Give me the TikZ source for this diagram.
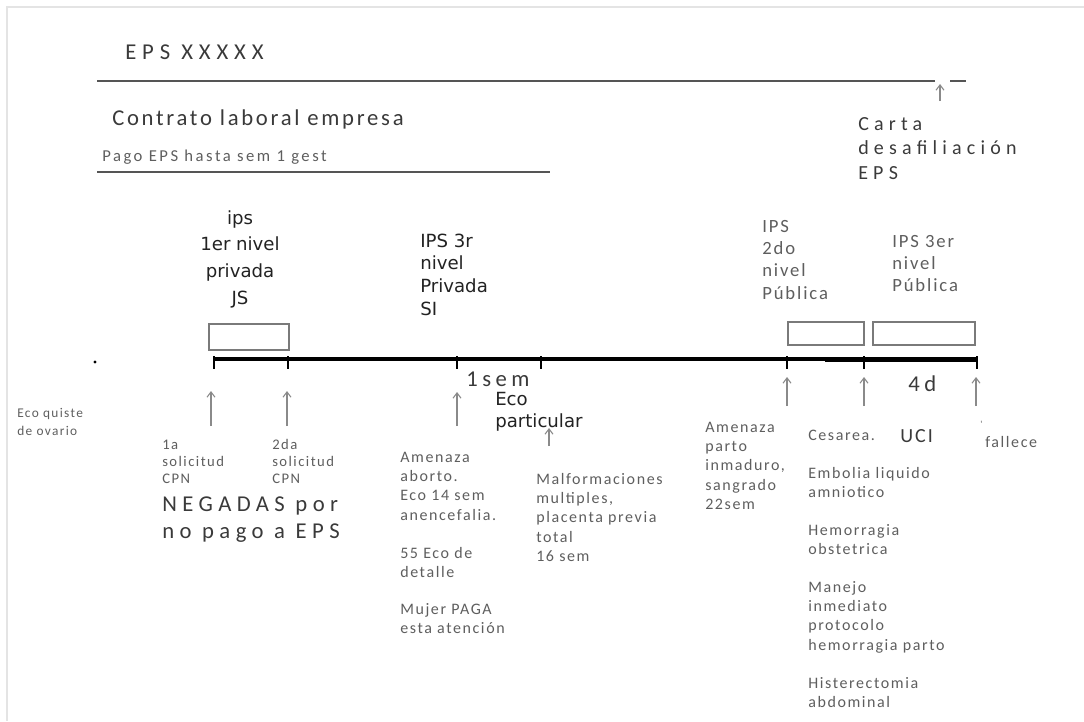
\documentclass[tikz,border=0pt]{standalone}
\usepackage{fontspec}
\setmainfont{Carlito}
\newfontfamily\fsm{Carlito}[LetterSpace=10]
\newfontfamily\fpago{Carlito}[LetterSpace=15]
\newfontfamily\fmid{Carlito}[LetterSpace=12]
\newfontfamily\fwide{Carlito}[LetterSpace=20]
\newfontfamily\fneg{Carlito}[LetterSpace=24]
\newfontfamily\fwider{Carlito}[LetterSpace=26]
\newfontfamily\fdv{DejaVu Sans}
\usetikzlibrary{arrows.meta}
\newcommand{\ml}[1]{\begin{tabular}[t]{@{}l@{}}#1\end{tabular}}
\newcommand{\mlc}[1]{\begin{tabular}[t]{@{}c@{}}#1\end{tabular}}
\definecolor{txtdark}{HTML}{3A3A3A}
\definecolor{txtgray}{HTML}{5E5E5E}
\definecolor{dvtxt}{HTML}{222222}
\definecolor{linegray}{HTML}{555555}
\definecolor{boxgray}{HTML}{7A7A7A}
\definecolor{arrgray}{HTML}{8A8A8A}
\definecolor{framegray}{HTML}{E4E4E4}
\tikzset{
  lbl/.style={inner sep=0pt, anchor=base west},
  small/.style={lbl, font=\fsm\fontsize{12}{14.5}\selectfont, text=txtgray},
  tiny/.style={lbl, font=\fsm\fontsize{10}{14}\selectfont, text=txtgray},
  cpn/.style={lbl, font=\fsm\fontsize{11}{13.1}\selectfont, text=txtgray},
  big/.style={lbl, font=\fmid\fontsize{17}{20}\selectfont, text=txtdark},
  bigwide/.style={lbl, font=\fwide\fontsize{17}{20}\selectfont, text=txtdark},
  ipspub/.style={lbl, font=\fsm\fontsize{14}{16.8}\selectfont, text=txtgray},
  carta/.style={lbl, font=\fwider\fontsize{15}{18.4}\selectfont, text=txtdark},
  dvlbl/.style={lbl, font=\fdv\fontsize{13.6}{17}\selectfont, text=dvtxt},
  topline/.style={draw=linegray, line width=1.1pt},
  timeline/.style={draw=black, line width=2.8pt},
  tickmark/.style={draw=black, line width=0.8pt},
  boxr/.style={draw=boxgray, line width=1.1pt},
  arr/.style={draw=arrgray, line width=0.8pt, -{Straight Barb[length=4pt,width=6pt]}},
}
\begin{document}
\begin{tikzpicture}[x=0.75pt,y=-0.75pt]
\useasboundingbox (0,0) rectangle (1084,721);
\draw[framegray, line width=1pt] (7,721) -- (7,7) -- (1084,7);

% top bars
\coordinate (l1a) at (97,81);
\coordinate (l1b) at (935,81);
\coordinate (l1c) at (950,81);
\coordinate (l1d) at (966,81);
\draw[topline] (l1a) -- (l1b);
\draw[topline] (l1c) -- (l1d);
\coordinate (l2a) at (97,172);
\coordinate (l2b) at (550,172);
\draw[topline] (l2a) -- (l2b);

\node[bigwide, font=\fwider\fontsize{17}{20}\selectfont] (eps) at (125,59) {EPS XXXXX};
\node[big] (contrato) at (112,125) {Contrato laboral empresa};
\node[small, font=\fpago\fontsize{12.5}{14}\selectfont] (pago) at (102,161) {Pago EPS hasta sem 1 gest};

\coordinate (cs) at (940,101);
\coordinate (ce) at (940,84);
\draw[arr] (cs) -- (ce);
\node[carta] (carta) at (858,130) {\ml{Carta\\desafiliación\\EPS}};

% institutions
\node[dvlbl, anchor=base] (ips1) at (240,224) {\mlc{ips\\[3pt]1er nivel\\[3pt]privada\\[3pt]JS}};
\node[dvlbl] (ips3r) at (420,247) {\ml{IPS 3r\\nivel\\Privada\\SI}};
\node[ipspub] (ips2) at (762,232) {\ml{IPS\\2do\\nivel\\Pública}};
\node[ipspub] (ips3) at (892,247) {\ml{IPS 3er\\nivel\\Pública}};

% boxes
\draw[boxr] (209,324) rectangle (289,350);
\draw[boxr] (788,322) rectangle (864,345);
\draw[boxr] (873,322) rectangle (975,345);

% timeline
\coordinate (t0) at (213,359);
\coordinate (t1) at (978,359);
\coordinate (t2) at (825,360);
\coordinate (t3) at (978,360);
\draw[timeline] (t0) -- (t1);
\draw[timeline, line width=3.2pt] (t2) -- (t3);
\foreach \x in {214,288,457,541,787,864,977}
  \draw[tickmark] (\x,356) -- (\x,369);
\fill[black] (95,362) circle (1.6);

\node[bigwide] (sem) at (466,386) {1sem};
\node[bigwide] (cuatro) at (908,391) {4d};
\node[dvlbl] (ecop) at (495,405) {\ml{Eco\\particular}};

% arrows
\coordinate (a1s) at (211,426); \coordinate (a1e) at (211,391);
\coordinate (a2s) at (287,426); \coordinate (a2e) at (287,391);
\coordinate (a3s) at (457,426); \coordinate (a3e) at (457,392);
\coordinate (a4s) at (549,446); \coordinate (a4e) at (549,428);
\coordinate (a5s) at (787,406); \coordinate (a5e) at (787,377);
\coordinate (a6s) at (864,406); \coordinate (a6e) at (864,377);
\coordinate (a7s) at (976,406); \coordinate (a7e) at (976,377);
\draw[arr] (a1s) -- (a1e);
\draw[arr] (a2s) -- (a2e);
\draw[arr] (a3s) -- (a3e);
\draw[arr] (a4s) -- (a4e);
\draw[arr] (a5s) -- (a5e);
\draw[arr] (a6s) -- (a6e);
\draw[arr] (a7s) -- (a7e);

% lower labels
\node[tiny] (quiste) at (17,417) {\ml{Eco quiste\\de ovario}};
\node[cpn] (sol1) at (162,449) {\ml{1a\\solicitud\\CPN}};
\node[cpn] (sol2) at (272,449) {\ml{2da\\solicitud\\CPN}};
\node[lbl, font=\fneg\fontsize{17}{20.3}\selectfont, text=txtdark] (neg) at (162,511) {\ml{NEGADAS por\\no pago a EPS}};

\node[small] (amen) at (400,462) {\ml{Amenaza\\aborto.\\Eco 14 sem\\anencefalia.}};
\node[small] (eco55) at (400,558) {\ml{55 Eco de\\detalle}};
\node[small] (mujer) at (400,614) {\ml{Mujer PAGA\\esta atención}};

\node[small] (malf) at (536,484) {\ml{Malformaciones\\multiples,\\placenta previa\\total\\16 sem}};

\node[small] (parto) at (705,432) {\ml{Amenaza\\parto\\inmaduro,\\sangrado\\22sem}};

\node[small] (ces) at (808,440) {Cesarea.};
\node[lbl, font=\fsm\fontsize{15}{18}\selectfont, text=txtdark] (uci) at (900,442) {UCI};
\node[small] (fall) at (985,447) {fallece};
\node[small, font=\fsm\fontsize{7}{8}\selectfont] (tickq) at (980,427) {'};
\node[small] (emb) at (808,478) {\ml{Embolia liquido\\amniotico}};
\node[small] (hem) at (808,535) {\ml{Hemorragia\\obstetrica}};
\node[small] (man) at (808,592) {\ml{Manejo\\inmediato\\protocolo\\hemorragia parto}};
\node[small] (his) at (808,688) {\ml{Histerectomia\\abdominal}};
\end{tikzpicture}
\end{document}
